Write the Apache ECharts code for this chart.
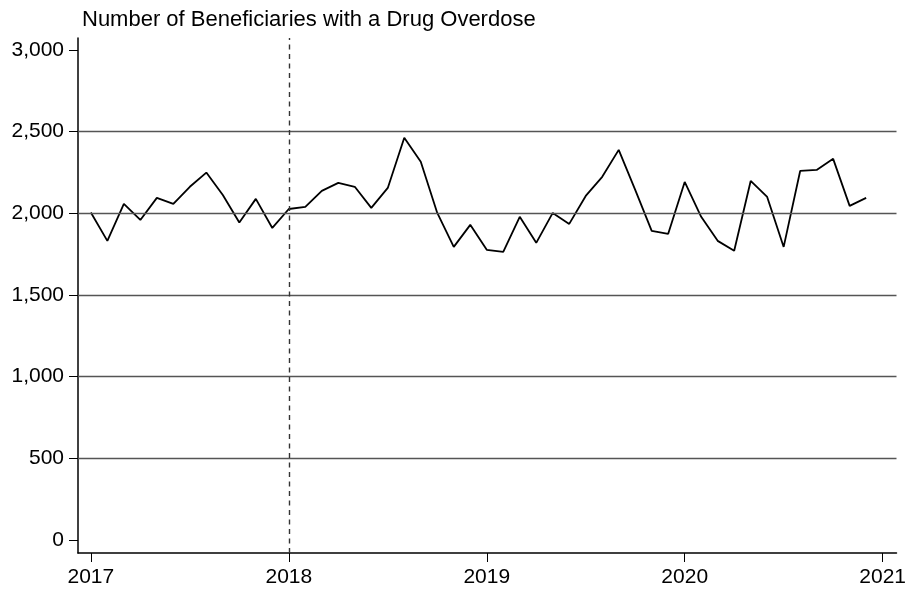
<!DOCTYPE html>
<html>
<head>
<meta charset="utf-8">
<script src="https://cdn.jsdelivr.net/npm/echarts@6/dist/echarts.min.js"></script>
<style>html,body{margin:0;padding:0;background:#fff}#c{width:909px;height:589px}</style>
</head>
<body>
<div id="c"></div>
<script>
const title = "Number of Beneficiaries with a Drug Overdose";
const months = [
 "2017-01","2017-02","2017-03","2017-04","2017-05","2017-06","2017-07","2017-08","2017-09","2017-10","2017-11","2017-12",
 "2018-01","2018-02","2018-03","2018-04","2018-05","2018-06","2018-07","2018-08","2018-09","2018-10","2018-11","2018-12",
 "2019-01","2019-02","2019-03","2019-04","2019-05","2019-06","2019-07","2019-08","2019-09","2019-10","2019-11","2019-12",
 "2020-01","2020-02","2020-03","2020-04","2020-05","2020-06","2020-07","2020-08","2020-09","2020-10","2020-11","2020-12"
];
const overdoses = [
 2005,1831,2057,1959,2094,2057,2162,2249,2112,1943,2088,1910,
 2026,2039,2137,2186,2162,2033,2155,2462,2315,2002,1794,1929,
 1776,1763,1978,1819,2002,1935,2106,2223,2388,2143,1892,1874,
 2192,1978,1831,1770,2198,2100,1794,2259,2265,2333,2045,2094
];
const xTicks = [2017,2018,2019,2020,2021];
const yTicks = [0,500,1000,1500,2000,2500,3000];
const gridValues = [500,1000,1500,2000,2500];
const refYear = 2018;

function toYear(m){ const p = m.split('-'); return +p[0] + (+p[1]-1)/12; }
const data = months.map((m,i)=>[toYear(m), overdoses[i]]);

const chart = echarts.init(document.getElementById('c'));
const font = "'Liberation Sans', Arial, Helvetica, sans-serif";
chart.setOption({
  animation:false,
  title:{text:title,left:77,top:4,textStyle:{fontFamily:font,fontSize:22,fontWeight:'normal',color:'#000'}},
  grid:{left:78,top:38,right:9,bottom:36},
  xAxis:{type:'value',min:2017-0.065,max:2021.07,
    axisLine:{show:true,onZero:false,lineStyle:{color:'#000',width:1.5}},
    axisTick:{show:true,customValues:xTicks,length:9,lineStyle:{color:'#000',width:1}},
    axisLabel:{customValues:xTicks,formatter:v=>String(Math.round(v)),fontFamily:font,fontSize:21,color:'#000',margin:14},
    splitLine:{show:false}},
  yAxis:{type:'value',min:-80,max:3073,
    axisLine:{show:true,onZero:false,lineStyle:{color:'#000',width:1.5}},
    axisTick:{show:true,customValues:yTicks,length:9,lineStyle:{color:'#000',width:1}},
    axisLabel:{customValues:yTicks,formatter:v=>Math.round(v).toLocaleString('en-US'),fontFamily:font,fontSize:21,color:'#000',margin:14},
    splitLine:{show:false}},
  series:[{
    type:'line',data:data,showSymbol:false,symbol:'none',
    lineStyle:{color:'#000',width:1.8},
    markLine:{silent:true,symbol:'none',label:{show:false},animation:false,
      data:[
        ...gridValues.map(v=>({yAxis:v,lineStyle:{color:'#555',width:1.3,type:'solid'}})),
        {xAxis:refYear,lineStyle:{color:'#333',width:1.4,type:[5,4.5]}}
      ]}
  }]
});
</script>
</body>
</html>
